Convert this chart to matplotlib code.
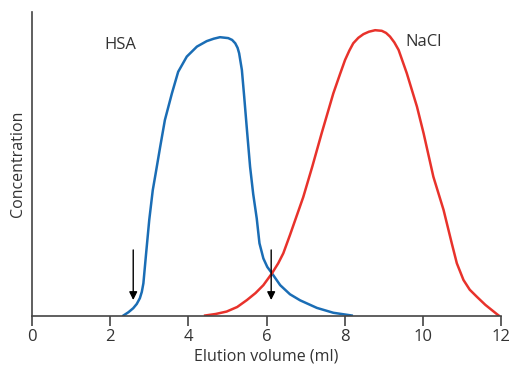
import matplotlib
matplotlib.use("Agg")
import matplotlib.pyplot as plt

# elution volume (ml) and relative concentration
hsa_x = [2.34, 2.47, 2.59, 2.68, 2.76, 2.81, 2.85, 2.92, 3.00, 3.09, 3.16, 3.28, 3.40, 3.58, 3.74,
         3.96, 4.22, 4.47, 4.65, 4.81, 5.02, 5.12, 5.20, 5.26, 5.30, 5.37, 5.43, 5.50, 5.58,
         5.66, 5.75, 5.82, 5.92, 6.02, 6.14, 6.35, 6.60, 6.86, 7.29, 7.71, 8.18]
hsa_y = [0.0, 0.011, 0.024, 0.038, 0.057, 0.078, 0.106, 0.205, 0.315, 0.413, 0.465, 0.556, 0.644, 0.732, 0.803,
         0.853, 0.886, 0.904, 0.912, 0.917, 0.914, 0.908, 0.897, 0.882, 0.864, 0.809, 0.72, 0.611, 0.49,
         0.40, 0.320, 0.238, 0.188, 0.160, 0.139, 0.100, 0.070, 0.050, 0.025, 0.009, 0.0]

nacl_x = [4.43, 4.70, 4.98, 5.25, 5.50, 5.72, 5.92, 6.14, 6.30, 6.43, 6.60, 6.94, 7.17, 7.41, 7.71,
          7.88, 8.01, 8.12, 8.22, 8.35, 8.48, 8.62, 8.78, 8.95, 9.06, 9.16, 9.27, 9.38, 9.59,
          9.85, 10.02, 10.27, 10.53, 10.74, 10.87, 11.04, 11.20, 11.38, 11.60, 11.89, 11.94]
nacl_y = [0.0, 0.005, 0.013, 0.028, 0.051, 0.074, 0.100, 0.139, 0.172, 0.205, 0.265, 0.39, 0.49, 0.60, 0.732,
          0.795, 0.842, 0.873, 0.897, 0.915, 0.927, 0.935, 0.94, 0.938, 0.931, 0.919, 0.900, 0.875, 0.798,
          0.688, 0.60, 0.457, 0.348, 0.238, 0.172, 0.117, 0.085, 0.062, 0.035, 0.005, 0.0]

arrow_x = [2.59, 6.12]
arrow_top = 0.216
arrow_tip = 0.051

blue = "#1a6db5"
red = "#e8322b"
grey = "#444444"

plt.rcParams["font.family"] = ["Open Sans", "DejaVu Sans"]

fig = plt.figure(figsize=(5.1, 3.7), dpi=100)
ax = fig.add_axes([32 / 510, 54.5 / 370, 469 / 510, 303.5 / 370])

ax.plot(hsa_x, hsa_y, color=blue, lw=1.8, solid_joinstyle="round")
ax.plot(nacl_x, nacl_y, color=red, lw=1.8, solid_joinstyle="round")

for xa in arrow_x:
    ax.annotate("", xy=(xa, arrow_tip), xytext=(xa, arrow_top),
                arrowprops=dict(arrowstyle="-|>", color="black", lw=1.0,
                                mutation_scale=12, shrinkA=0, shrinkB=0))

ax.text(2.25, 0.89, "HSA", fontsize=12, color="#333333", ha="center", va="center")
ax.text(10.03, 0.90, "NaCl", fontsize=12, color="#333333", ha="center", va="center")

ax.set_xlim(0, 12)
ax.set_ylim(0, 1)
ax.set_xticks(range(0, 13, 2))
ax.set_yticks([])
ax.tick_params(axis="x", direction="out", length=7, width=1.2, color=grey,
               labelsize=12, labelcolor="#333333", pad=3)
for s in ["top", "right"]:
    ax.spines[s].set_visible(False)
for s in ["left", "bottom"]:
    ax.spines[s].set_color(grey)
    ax.spines[s].set_linewidth(1.2)

ax.set_xlabel("Elution volume (ml)", fontsize=11.5, color="#333333", labelpad=2)
ax.set_ylabel("Concentration", fontsize=11.5, color="#333333", labelpad=4)

fig.savefig("out.png", dpi=100)
